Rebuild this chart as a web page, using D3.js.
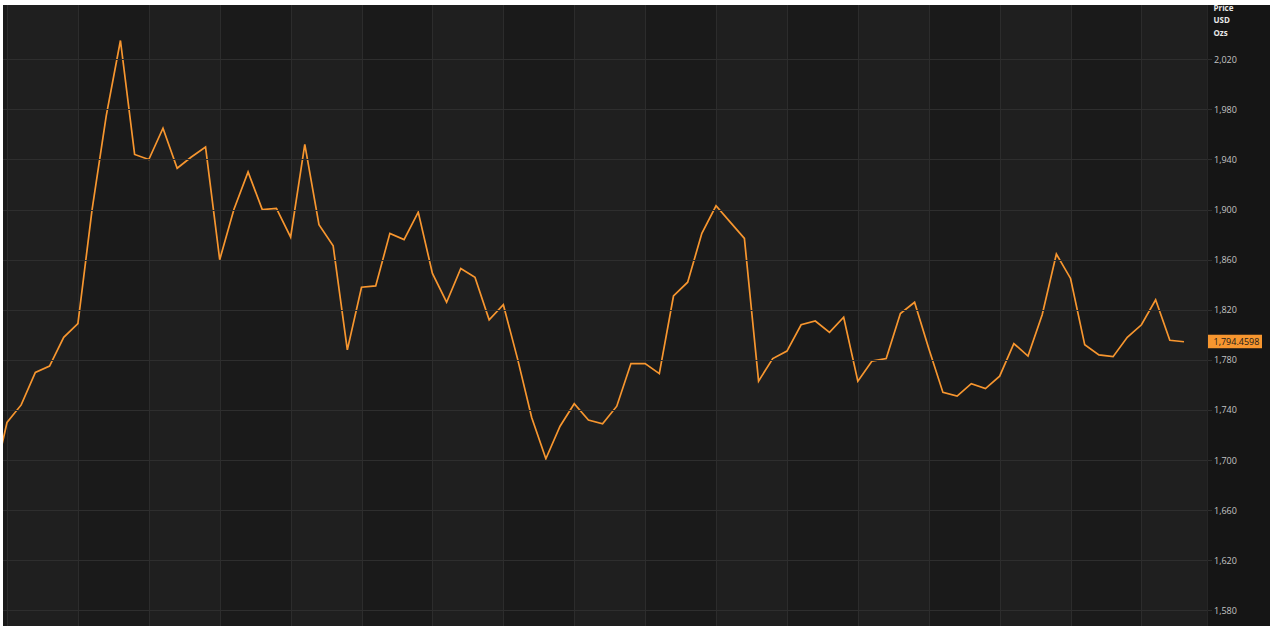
<!DOCTYPE html>
<html>
<head>
<meta charset="utf-8">
<script src="https://cdn.jsdelivr.net/npm/d3@7"></script>
<style>
  body { margin: 0; background: #ffffff; }
  svg { display: block; }
</style>
</head>
<body>
<div id="chart"></div>
<script>
/*
  gold price line chart, dark theme, axis on the right
*/

// price per point, first one sits just off the left edge
var prices = [1680, 1730, 1744, 1770, 1775, 1798, 1809, 1900, 1975, 2035,
  1944, 1940, 1965, 1933, 1942, 1950, 1860, 1900, 1930, 1900,
  1901, 1878, 1952, 1888, 1871, 1788, 1838, 1839, 1881, 1876,
  1898, 1849, 1826, 1853, 1846, 1812, 1824, 1781, 1734, 1701,
  1727, 1745, 1732, 1729, 1743, 1777, 1777, 1769, 1831, 1842,
  1881, 1903, 1890, 1877, 1763, 1781, 1787, 1808, 1811, 1802,
  1814, 1763, 1779, 1781, 1817, 1826, 1789, 1754, 1751, 1761,
  1757, 1767, 1793, 1783, 1816, 1864.5, 1845, 1792, 1784, 1782.5,
  1798, 1808, 1828, 1795.6, 1794.4598];
var firstIndex = -1;

// y axis ticks and header
var yTicks = [1580, 1620, 1660, 1700, 1740, 1780, 1820, 1860, 1900, 1940, 1980, 2020];
var axisTitle = ["Price", "USD", "Ozs"];
var lastLabel = "1,794.4598";

// vertical grid every 5 points
var gridIndex = [0, 5, 10, 15, 20, 25, 30, 35, 40, 45, 50, 55, 60, 65, 70, 75, 80];

var W = 1270, H = 626;
var plotLeft = 3, plotTop = 5, axisX = 1207;

var svg = d3.select("#chart").append("svg")
  .attr("width", W).attr("height", H);

svg.append("rect").attr("width", W).attr("height", H).attr("fill", "#ffffff");

var x = d3.scaleLinear().domain([0, 83]).range([7, 1184]);
var y = d3.scaleLinear().domain([1580, 2020]).range([610.3, 59.3]);

// clip for the plot area
svg.append("defs").append("clipPath").attr("id", "plotclip")
  .append("rect")
  .attr("x", plotLeft).attr("y", plotTop)
  .attr("width", axisX - plotLeft).attr("height", H - plotTop);

// axis panel background
svg.append("rect")
  .attr("x", axisX).attr("y", plotTop)
  .attr("width", W - axisX).attr("height", H - plotTop)
  .attr("fill", "#151515");

var plot = svg.append("g").attr("clip-path", "url(#plotclip)");

// alternating column shading
var edges = [plotLeft].concat(gridIndex.map(function(d) { return Math.round(x(d)); })).concat([axisX]);
var cols = [];
for (var i = 0; i < edges.length - 1; i++) {
  cols.push({x0: edges[i], x1: edges[i + 1], k: i});
}
plot.selectAll("rect.col").data(cols).enter().append("rect")
  .attr("class", "col")
  .attr("x", function(d) { return d.x0; })
  .attr("y", plotTop)
  .attr("width", function(d) { return d.x1 - d.x0; })
  .attr("height", H - plotTop)
  .attr("shape-rendering", "crispEdges")
  .attr("fill", function(d) { return d.k % 2 == 1 ? "#1f1f1f" : "#1a1a1a"; });

// vertical grid
plot.selectAll("line.vg").data(gridIndex).enter().append("line")
  .attr("class", "vg")
  .attr("x1", function(d) { return Math.round(x(d)) + 0.5; })
  .attr("x2", function(d) { return Math.round(x(d)) + 0.5; })
  .attr("y1", plotTop).attr("y2", H)
  .attr("shape-rendering", "crispEdges")
  .attr("stroke", "#2c2c2c").attr("stroke-width", 1);

// horizontal grid
svg.selectAll("line.hg").data(yTicks).enter().append("line")
  .attr("class", "hg")
  .attr("x1", plotLeft).attr("x2", axisX + 5)
  .attr("y1", function(d) { return Math.round(y(d)) + 0.5; })
  .attr("y2", function(d) { return Math.round(y(d)) + 0.5; })
  .attr("shape-rendering", "crispEdges")
  .attr("stroke", "#2e2e2e").attr("stroke-width", 1);

// axis separator
svg.append("line")
  .attr("x1", axisX + 0.5).attr("x2", axisX + 0.5)
  .attr("y1", plotTop).attr("y2", H)
  .attr("shape-rendering", "crispEdges")
  .attr("stroke", "#262626");

// price line
var line = d3.line()
  .x(function(d, i) { return x(i + firstIndex); })
  .y(function(d) { return y(d); });

plot.append("path")
  .datum(prices)
  .attr("d", line)
  .attr("fill", "none")
  .attr("stroke", "#f7962f")
  .attr("stroke-width", 1.7)
  .attr("stroke-linejoin", "miter");

// y axis labels
var yAxis = d3.axisRight(y)
  .tickValues(yTicks)
  .tickSize(0)
  .tickPadding(0)
  .tickFormat(d3.format(","));

var ag = svg.append("g")
  .attr("transform", "translate(1214,0)")
  .call(yAxis);
ag.select(".domain").remove();
ag.selectAll("text")
  .attr("fill", "#c4c4c4")
  .attr("font-family", "'Open Sans', 'DejaVu Sans', sans-serif")
  .attr("font-size", 9)
  .attr("dy", "0.33em");

// header text
svg.selectAll("text.title").data(axisTitle).enter().append("text")
  .attr("class", "title")
  .attr("x", 1213.5)
  .attr("y", function(d, i) { return 11 + i * 12.4; })
  .attr("fill", "#e8e8e8")
  .attr("font-family", "'Open Sans', 'DejaVu Sans', sans-serif")
  .attr("font-weight", "bold")
  .attr("font-size", 8)
  .text(function(d) { return d; });

// white strip on top covers the cut header
svg.append("rect").attr("x", 0).attr("y", 0).attr("width", W).attr("height", plotTop)
  .attr("fill", "#ffffff");

// last value tag
var lastY = y(prices[prices.length - 1]);
svg.append("rect")
  .attr("x", 1208).attr("y", lastY - 7)
  .attr("width", 54).attr("height", 13.5)
  .attr("fill", "#f7962f");
svg.append("text")
  .attr("x", 1213.5).attr("y", lastY)
  .attr("dy", "0.35em")
  .attr("fill", "#1a1a1a")
  .attr("font-family", "'Open Sans', 'DejaVu Sans', sans-serif")
  .attr("font-size", 9)
  .text(lastLabel);
</script>
</body>
</html>
